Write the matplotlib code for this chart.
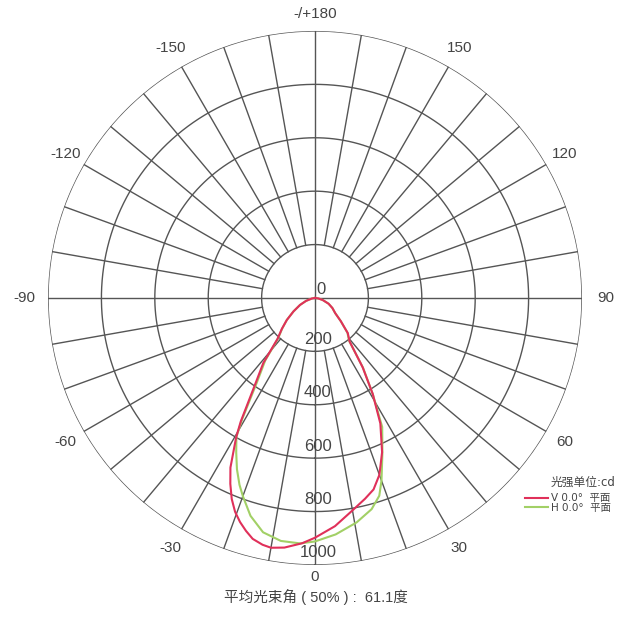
import numpy as np
import matplotlib
matplotlib.use("Agg")
import matplotlib.pyplot as plt

plt.rcParams["font.family"] = ["Liberation Sans", "Noto Sans CJK SC", "DejaVu Sans"]

# angles in degrees (0 = straight down, positive to the right), intensity in cd
v_angles = [-90, -80, -72, -65, -58, -52, -47, -42.5, -38.5, -34.5, -31, -29.5,
            -26.5, -24.5, -22.5, -20.5, -18.5, -16.5, -14.5, -12, -10, -7, -3,
            0, 5, 10, 14, 17, 20, 23.5, 27.5, 31, 34.5, 38.5, 43, 48, 53, 60,
            67, 75, 82, 90]
v_values = [0, 12, 35, 62, 95, 134, 170, 208, 311, 400, 540, 600,
            710, 765, 815, 855, 885, 910, 932, 945, 950, 942, 920,
            898, 858, 808, 775, 750, 705, 630, 530, 420, 315, 208, 180, 130, 95, 75,
            55, 30, 12, 0]

h_angles = [-90, -80, -72, -65, -58, -52, -47, -42.5, -38.5, -34.5, -31, -29.5,
            -27, -24.5, -22, -20, -16.5, -12.5, -8, -3.5, 0, 5, 10.5, 15, 18,
            20, 23.5, 27.5, 31, 34.5, 38.5, 43, 48, 53, 60, 67, 75, 82, 90]
h_values = [0, 12, 35, 62, 95, 134, 168, 204, 300, 385, 530, 598,
            650, 705, 755, 790, 851, 899, 919, 921, 912, 889, 855, 819, 779,
            728, 633, 545, 420, 318, 205, 178, 130, 95, 75, 55, 30, 12, 0]

ring_values = [200, 400, 600, 800, 1000]
angle_ticks = [0, 30, 60, 90, 120, 150, 180, -150, -120, -90, -60, -30]
angle_labels = ["0", "30", "60", "90", "120", "150", "-/+180",
                "-150", "-120", "-90", "-60", "-30"]

grid_color = "#555555"
text_color = "#444444"
red = "#e0305a"
green = "#a2d066"
legend_font = ["DejaVu Sans", "Noto Sans CJK SC"]

fig = plt.figure(figsize=(6.36, 6.19), dpi=100)
ax = fig.add_axes([0.0755, 0.0873, 0.8396, 0.8627], projection="polar")
ax.set_theta_zero_location("S")
ax.set_theta_direction(1)
ax.set_ylim(0, 1000)
ax.grid(False)
ax.set_xticks([])
ax.set_yticks([])
ax.spines["polar"].set_visible(False)

# rings
full = np.linspace(0, 2 * np.pi, 400)
for rv in ring_values:
    ax.plot(full, np.full_like(full, rv), color=grid_color, lw=1.0, zorder=1)

# spokes every 10 degrees, the main axes run through the centre
for deg in range(0, 360, 10):
    t = np.deg2rad(deg)
    r0 = 0 if deg % 90 == 0 else 200
    ax.plot([t, t], [r0, 1000], color=grid_color, lw=1.0, zorder=1)

# curves
ax.plot(np.deg2rad(h_angles), h_values, color=green, lw=1.5, zorder=3)
ax.plot(np.deg2rad(v_angles), v_values, color=red, lw=1.5, zorder=4)

# angle labels
for deg, lab in zip(angle_ticks, angle_labels):
    r = 1080
    if deg == 0:
        r = 1045
    elif deg == 180:
        r = 1062
    elif deg in (90, -90):
        r = 1090
    ax.text(np.deg2rad(deg), r, lab, ha="center", va="center",
            fontsize=11, color=text_color)

# radial value labels along the 0 axis
ax.annotate("0", xy=(0, 0), xytext=(4, 6), textcoords="offset points",
            ha="center", va="center", fontsize=12, color=text_color)
for rv in ring_values:
    ax.annotate(str(rv), xy=(0, rv - 45), xytext=(2, 0),
                textcoords="offset points", ha="center", va="center",
                fontsize=12, color=text_color)

# beam angle note
fig.text(0.497, 0.036, "平均光束角 ( 50% ) :  61.1度", ha="center", va="center",
         fontsize=10.5, color=text_color)

# legend block
fig.text(0.866, 0.221, "光强单位:cd", ha="left", va="center",
         fontsize=8.5, color=text_color, family=legend_font)
fig.lines.append(plt.Line2D([0.8255, 0.8616], [0.1955, 0.1955], color=red,
                            lw=1.5, transform=fig.transFigure))
fig.lines.append(plt.Line2D([0.8255, 0.8616], [0.1814, 0.1814], color=green,
                            lw=1.5, transform=fig.transFigure))
fig.text(0.866, 0.1948, "V 0.0°  平面", ha="left", va="center",
         fontsize=7.5, color=text_color, family=legend_font)
fig.text(0.866, 0.1800, "H 0.0°  平面", ha="left", va="center",
         fontsize=7.5, color=text_color, family=legend_font)

fig.savefig("out.png", dpi=100, facecolor="white")
